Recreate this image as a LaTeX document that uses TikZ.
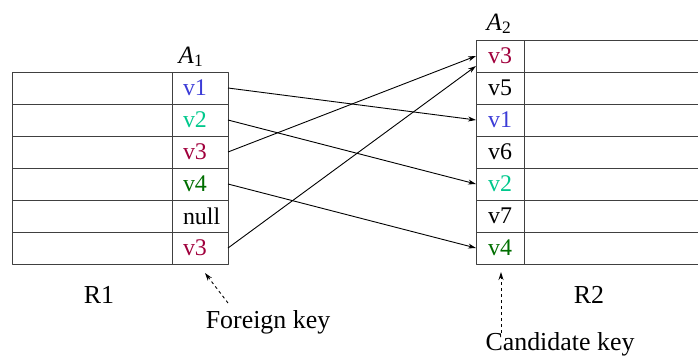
\documentclass[tikz,border=0pt]{standalone}
\usepackage{fontspec}
\setmainfont{Liberation Serif}
\usetikzlibrary{positioning,arrows.meta}
\definecolor{vblue}{RGB}{60,60,215}
\definecolor{vteal}{RGB}{0,200,140}
\definecolor{vred}{RGB}{160,0,60}
\definecolor{vgreen}{RGB}{0,110,0}
\tikzset{
  cell/.style={draw=black!75,line width=0.8bp,minimum height=32bp,inner sep=0pt,outer sep=0pt},
  fkcell/.style={cell,minimum width=56bp,text width=34bp,inner xsep=11bp,align=left},
  ckcell/.style={cell,minimum width=48bp},
  tag/.style={font=\fontsize{26}{30}\selectfont,anchor=base},
  attr/.style={font=\fontsize{25}{28}\selectfont,anchor=base}
}
\begin{document}
\begin{tikzpicture}[x=1bp,y=-1bp,>={Stealth[length=8bp,width=5bp]},line join=round,font=\fontsize{24}{28}\selectfont]
	\useasboundingbox (0,0) rectangle (698,356);
	% R1
	\foreach \v/\c [count=\i] in {v1/vblue,v2/vteal,v3/vred,v4/vgreen,null/black,v3/vred}{
		\node[cell,minimum width=160bp] (l\i) at (92,56+32*\i) {};
		\node[fkcell,text=\c] (a\i) at (200,56+32*\i) {\v};
	}
	% R2
	\foreach \v/\c [count=\i] in {v3/vred,v5/black,v1/vblue,v6/black,v2/vteal,v7/black,v4/vgreen}{
		\node[ckcell,text=\c] (b\i) at (500,24+32*\i) {\v};
		\node[cell,minimum width=178bp] (r\i) at (613,24+32*\i) {};
	}
	\node[attr] (A1) at (191,63) {\textit{A}\textsubscript{1}};
	\node[attr] (A2) at (499,30) {\textit{A}\textsubscript{2}};
	\node[tag] (R1) at (99,303) {R1};
	\node[tag] (R2) at (589,303) {R2};
	\node[tag] (fk) at (268,328) {Foreign key};
	\node[tag] (ck) at (560,350) {Candidate key};
	% references
	\draw[->,line width=0.9bp] (a1.east) -- (b3.west);
	\draw[->,line width=0.9bp] (a2.east) -- (b5.west);
	\draw[->,line width=0.9bp] (a3.east) -- (b1.west);
	\draw[->,line width=0.9bp] (a4.east) -- (b7.west);
	\draw[->,line width=0.9bp] (a6.east) -- ([yshift=-10bp]b1.west);
	% keys
	\coordinate (fks) at (228,303);
	\coordinate (fkt) at (205,273);
	\coordinate (cks) at (501,333);
	\coordinate (ckt) at (501,272);
	\draw[->,line width=0.9bp,dash pattern=on 3bp off 3bp] (fks) -- (fkt);
	\draw[->,line width=0.9bp,dash pattern=on 3bp off 3bp] (cks) -- (ckt);
\end{tikzpicture}
\end{document}
